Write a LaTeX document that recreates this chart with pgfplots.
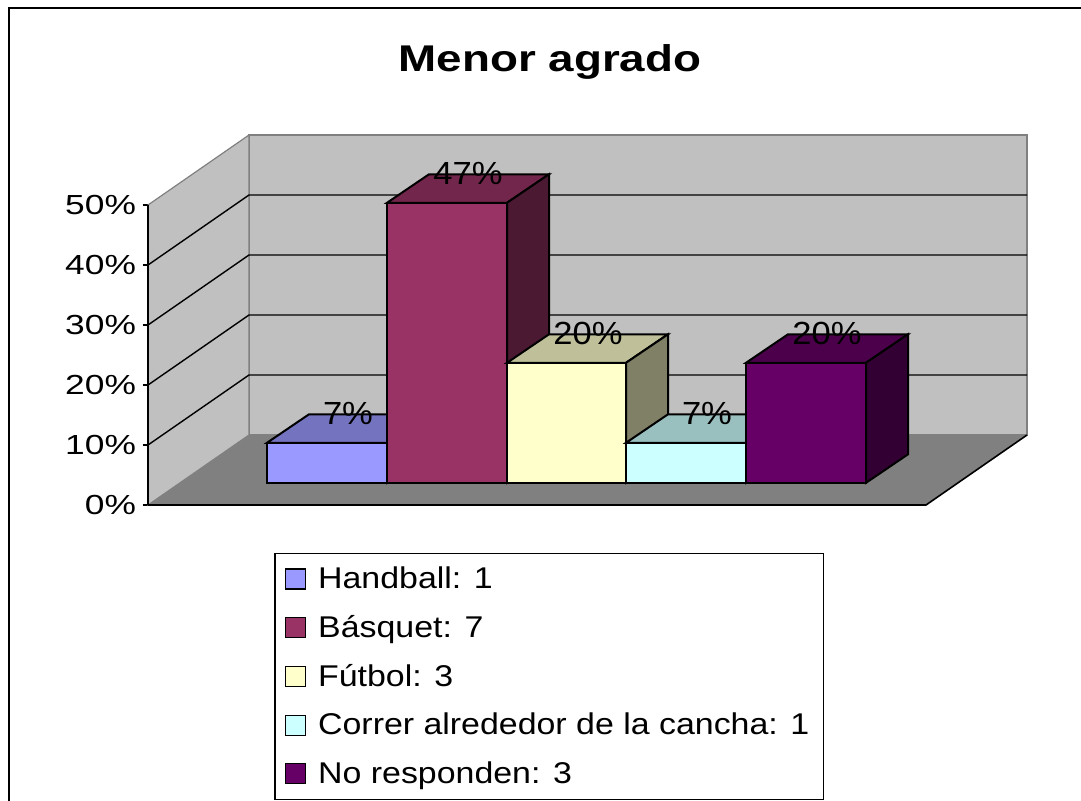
\documentclass[border=0pt]{standalone}
\usepackage{fontspec}
\setmainfont{Liberation Sans}
\newfontfamily\titlefont{Liberation Sans}[FakeStretch=1.23]
\newfontfamily\tickfont{Liberation Sans}[FakeStretch=1.28]
\newfontfamily\labfont{Liberation Sans}[FakeStretch=1.08]
\newfontfamily\legfont{Liberation Sans}[FakeStretch=1.13]
\usepackage{pgfplots}
\pgfplotsset{compat=1.18}
\definecolor{wall}{HTML}{C0C0C0}
\definecolor{floorc}{HTML}{808080}
\definecolor{hand}{HTML}{9999FF}
\definecolor{basq}{HTML}{993366}
\definecolor{futb}{HTML}{FFFFCC}
\definecolor{corr}{HTML}{CCFFFF}
\definecolor{nore}{HTML}{660066}

% one 3-D bar: x0, x1, value (%), colour, label
\newcommand{\cube}[5]{%
  \pgfmathsetmacro\yt{3.7+#3}%
  \pgfmathsetmacro\xa{#1+42}%
  \pgfmathsetmacro\xb{#2+42}%
  \pgfmathsetmacro\yb{3.7+4.75}%
  \pgfmathsetmacro\ytt{3.7+4.75+#3}%
  \addplot[fill=#4, draw=black, line width=1pt] coordinates {(#1,3.7) (#2,3.7) (#2,\yt) (#1,\yt)} -- cycle;
  \addplot[forget plot, fill=#4!75!black, draw=black, line width=1pt] coordinates {(#1,\yt) (#2,\yt) (\xb,\ytt) (\xa,\ytt)} -- cycle;
  \addplot[forget plot, fill=#4!50!black, draw=black, line width=1pt] coordinates {(#2,3.7) (\xb,\yb) (\xb,\ytt) (#2,\yt)} -- cycle;
  \node[anchor=base, yshift=2pt, font=\labfont\fontsize{16}{19}\selectfont] at (axis cs:{#1+81},{3.7+#3+2.375}) {#5};
}

\begin{document}
\begin{tikzpicture}
\begin{axis}[
  x=0.5pt, y=3pt,
  xmin=0, xmax=879, ymin=0, ymax=61.667,
  clip=false,
  hide x axis,
  axis y line*=left,
  y axis line style={draw=none},
  ytick={0,10,20,30,40,50},
  yticklabels={0\%,10\%,20\%,30\%,40\%,50\%},
  tick align=outside, major tick length=2.5pt,
  ytick style={black, line width=0.8pt},
  yticklabel style={font=\tickfont\fontsize{13.8}{16}\selectfont},
  legend cell align=left,
  legend image code/.code={\draw[#1, line width=0.7pt] (0pt,-5pt) rectangle (10pt,5pt);},
  legend style={at={(0.1433,-0.1284)}, anchor=north west, draw=black, line width=0.8pt,
    fill=white, font=\legfont\fontsize{15}{18}\selectfont, inner xsep=5pt, inner ysep=4.6pt,
    row sep=7.9pt, /tikz/every odd column/.append style={column sep=4pt}},
]
% floor and walls
\addplot[forget plot, fill=floorc, draw=none] coordinates {(0,0) (778,0) (879,11.667) (101,11.667)} -- cycle;
\addplot[forget plot, fill=wall, draw=floorc, line width=0.6pt] coordinates {(101,11.667) (879,11.667) (879,61.667) (101,61.667)} -- cycle;
\addplot[forget plot, fill=wall, draw=floorc, line width=0.6pt] coordinates {(0,0) (101,11.667) (101,61.667) (0,50)} -- cycle;
\pgfplotsinvokeforeach{10,20,30,40}{
  \draw[black, line width=0.7pt] (axis cs:0,#1) -- (axis cs:101,{#1+11.667}) -- (axis cs:879,{#1+11.667});
}
\draw[black, line width=0.8pt] (axis cs:0,0) -- (axis cs:778,0) -- (axis cs:879,11.667);
\draw[black, line width=0.8pt] (axis cs:0,0) -- (axis cs:0,50);

\cube{119}{239}{6.667}{hand}{7\%}
\addlegendentry{Handball: 1}
\cube{239}{359}{46.667}{basq}{47\%}
\addlegendentry{Básquet: 7}
\cube{359}{478}{20}{futb}{20\%}
\addlegendentry{Fútbol: 3}
\cube{478}{598}{6.667}{corr}{7\%}
\addlegendentry{Correr alrededor de la cancha: 1}
\cube{598}{718}{20}{nore}{20\%}
\addlegendentry{No responden: 3}

\node[anchor=base, font=\titlefont\fontsize{18.6}{22}\selectfont\bfseries] at (axis cs:402,72.17) {Menor agrado};
\draw[line width=1.4pt] (axis cs:-139,-52) -- (axis cs:-139,82.83) -- (axis cs:940,82.83);
\coordinate (TL) at (axis cs:-148,84.167);
\coordinate (BR) at (axis cs:933,-49.167);
\end{axis}
\pgfresetboundingbox
\path[use as bounding box] (TL) rectangle (BR);
\end{tikzpicture}
\end{document}
